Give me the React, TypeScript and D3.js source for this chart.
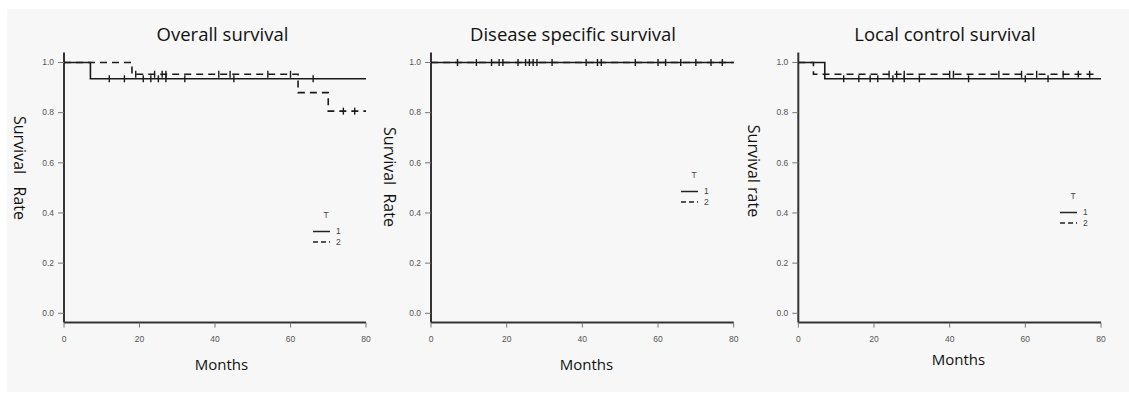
import React from "react";
import * as d3 from "d3";

// Kaplan-Meier step points [month, survival] and censored months, per panel and group (T)
const osT1Steps: [number, number][] = [[0, 1], [7, 0.935], [80, 0.935]];
const osT2Steps: [number, number][] = [[0, 1], [18, 0.953], [62, 0.88], [70, 0.806], [80, 0.806]];
const osT1Censor = [12, 16, 21, 23, 25, 27, 32, 45, 66];
const osT2Censor = [19, 24, 26, 27, 41, 44, 54, 60, 74, 77];

const dssT1Steps: [number, number][] = [[0, 1], [80, 1]];
const dssT2Steps: [number, number][] = [[0, 1], [80, 1]];
const dssT1Censor = [7, 12, 16, 18, 19, 23, 25, 26, 27, 28, 32];
const dssT2Censor = [41, 44, 45, 54, 60, 62, 66, 70, 74, 77];

const lcT1Steps: [number, number][] = [[0, 1], [7, 0.935], [80, 0.935]];
const lcT2Steps: [number, number][] = [[0, 1], [4, 0.953], [79, 0.953]];
const lcT1Censor = [12, 16, 19, 21, 25, 28, 32, 45, 60, 66];
const lcT2Censor = [24, 26, 28, 40, 41, 53, 59, 63, 70, 74, 77];

const titles = ["Overall survival", "Disease specific survival", "Local control survival"];
const yLabels = ["Survival   Rate", "Survival  Rate", "Survival rate"];
const xTicks = [0, 20, 40, 60, 80];
const yTicks = [0, 0.2, 0.4, 0.6, 0.8, 1.0];
const groups = ["1", "2"];

type Panel = {
  title: string;
  yLabel: string;
  steps: [number, number][][];
  censors: number[][];
  x0: number;
  x1: number;
  titleX: number;
  monthsX: number;
  monthsY: number;
  labelX: number;
  labelY: number;
  legend: [number, number];
};

const panels: Panel[] = [
  { title: titles[0], yLabel: yLabels[0], steps: [osT1Steps, osT2Steps], censors: [osT1Censor, osT2Censor],
    x0: 64, x1: 366, titleX: 222.5, monthsX: 221.5, monthsY: 370, labelX: 20, labelY: 168, legend: [326, 218] },
  { title: titles[1], yLabel: yLabels[1], steps: [dssT1Steps, dssT2Steps], censors: [dssT1Censor, dssT2Censor],
    x0: 431, x1: 733.7, titleX: 573, monthsX: 586.5, monthsY: 370, labelX: 390, labelY: 177, legend: [694, 178] },
  { title: titles[2], yLabel: yLabels[2], steps: [lcT1Steps, lcT2Steps], censors: [lcT1Censor, lcT2Censor],
    x0: 798.3, x1: 1101, titleX: 945, monthsX: 958.5, monthsY: 365, labelX: 754, labelY: 171, legend: [1073, 199] },
];

const dashes = ["none", "7,5"];
const axisColor = "#333";
const font = "'Open Sans', sans-serif";
const tickFont = "'Liberation Sans', Arial, sans-serif";

// value of a step curve at time t
function survAt(steps: [number, number][], t: number) {
  let s = steps[0][1];
  for (const [m, v] of steps) if (m <= t) s = v;
  return s;
}

function KMPanel({ p }: { p: Panel }) {
  const x = d3.scaleLinear().domain([0, 80]).range([p.x0, p.x1]);
  const y = d3.scaleLinear().domain([0, 1]).range([313.3, 62.5]);
  const line = d3
    .line<[number, number]>()
    .x(d => x(d[0]))
    .y(d => y(d[1]))
    .curve(d3.curveStepAfter);
  const axisY = y(-0.037);
  const [lx, ly] = p.legend;

  return (
    <g>
      <text x={p.titleX} y={41} textAnchor="middle" fontFamily={font} fontSize={18.5} fill="#111">
        {p.title}
      </text>
      <text
        transform={`translate(${p.labelX},${p.labelY}) rotate(90)`}
        textAnchor="middle"
        dominantBaseline="central"
        fontFamily={font}
        fontSize={16}
        fill="#111"
        style={{ whiteSpace: "pre" }}
      >
        {p.yLabel}
      </text>
      <text x={p.monthsX} y={p.monthsY} textAnchor="middle" fontFamily={font} fontSize={15} fill="#111">
        Months
      </text>

      {/* y axis */}
      <line x1={p.x0} x2={p.x0} y1={y(1.04)} y2={axisY} stroke={axisColor} strokeWidth={2} />
      {yTicks.map(t => (
        <g key={t}>
          <line x1={p.x0 - 6} x2={p.x0} y1={y(t)} y2={y(t)} stroke="#777" strokeWidth={1} />
          <text x={p.x0 - 10} y={y(t)} dy="0.33em" textAnchor="end" fontFamily={tickFont} fontSize={8.5} fill="#555">
            {t.toFixed(1)}
          </text>
        </g>
      ))}

      {/* x axis */}
      <line x1={p.x0} x2={p.x1} y1={axisY} y2={axisY} stroke={axisColor} strokeWidth={2} />
      {xTicks.map(t => (
        <g key={t}>
          <line x1={x(t)} x2={x(t)} y1={axisY} y2={axisY + 5} stroke="#777" strokeWidth={1} />
          <text x={x(t)} y={axisY + 19} textAnchor="middle" fontFamily={tickFont} fontSize={8.5} fill="#555">
            {t}
          </text>
        </g>
      ))}

      {/* curves */}
      {p.steps
        .map((s, i) => ({ s, i }))
        .reverse()
        .map(({ s, i }) => (
          <g key={i}>
            <path d={line(s) || ""} fill="none" stroke="#1a1a1a" strokeWidth={1.6} strokeDasharray={dashes[i]} />
            {p.censors[i].map(t => (
              <line
                key={t}
                x1={x(t)}
                x2={x(t)}
                y1={y(survAt(s, t)) - 3.5}
                y2={y(survAt(s, t)) + 3.5}
                stroke="#1a1a1a"
                strokeWidth={1.4}
              />
            ))}
          </g>
        ))}

      {/* legend */}
      <text x={lx} y={ly} textAnchor="middle" fontFamily={tickFont} fontSize={8.5} fill="#444">
        T
      </text>
      {groups.map((g, i) => (
        <g key={g}>
          <line
            x1={lx - 13}
            x2={lx + 4}
            y1={ly + 13.5 + i * 10.5}
            y2={ly + 13.5 + i * 10.5}
            stroke="#222"
            strokeWidth={1.5}
            strokeDasharray={i === 1 ? "5,3" : "none"}
          />
          <text x={lx + 10} y={ly + 13.5 + i * 10.5} dy="0.35em" fontFamily={tickFont} fontSize={8.5} fill="#444">
            {g}
          </text>
        </g>
      ))}
    </g>
  );
}

export default function App() {
  return (
    <svg width={1129} height={394} style={{ position: "absolute", left: 0, top: 0 }}>
      <rect x={0} y={0} width={1129} height={394} fill="#fff" />
      <rect x={7} y={9} width={1122} height={383} fill="#f7f7f7" />
      {panels.map((p, i) => (
        <KMPanel key={i} p={p} />
      ))}
    </svg>
  );
}
